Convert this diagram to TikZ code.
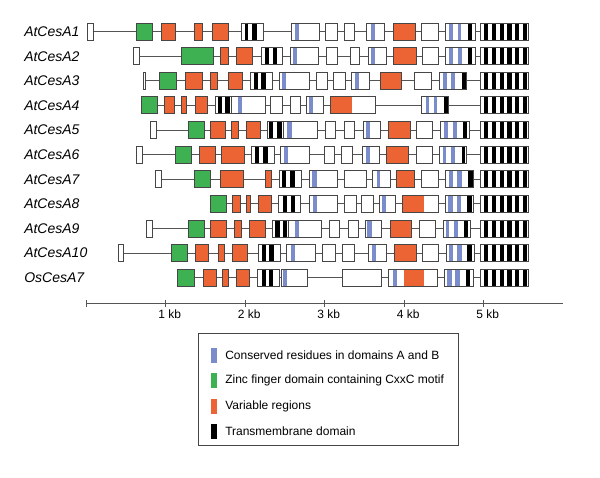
\documentclass[tikz,border=0pt]{standalone}
\usepackage{fontspec}
\setmainfont{Liberation Sans}
\definecolor{zgreen}{RGB}{62,178,82}
\definecolor{vorange}{RGB}{236,99,52}
\definecolor{cblue}{RGB}{122,140,204}
\definecolor{outl}{RGB}{70,70,70}
\definecolor{glin}{RGB}{85,85,85}
\tikzset{
  gb/.style={draw=outl,line width=0.6pt},
  gl/.style={draw=glin,line width=0.7pt},
  lab/.style={anchor=west,inner sep=0pt,font=\fontsize{10.5}{12}\selectfont\itshape},
  ticklab/.style={anchor=west,inner sep=0pt,font=\fontsize{9}{11}\selectfont},
  leglab/.style={anchor=west,inner sep=0pt,font=\fontsize{9}{11}\selectfont},
}
\newcommand\bxW[2]{\filldraw[gb,fill=white] (#1,-8.5) rectangle (#2,8.5);}
\newcommand\bxG[2]{\filldraw[gb,fill=zgreen] (#1,-8.5) rectangle (#2,8.5);}
\newcommand\bxO[2]{\filldraw[gb,fill=vorange] (#1,-8.5) rectangle (#2,8.5);}
\newcommand\bxS[3]{\fill[white] (#1,-8.5) rectangle (#2,8.5); #3 \draw[gb] (#1,-8.5) rectangle (#2,8.5);}
\newcommand\stK[2]{\fill[black] (#1,-8.5) rectangle (#2,8.5);}
\newcommand\stB[2]{\fill[cblue] (#1,-8.5) rectangle (#2,8.5);}
\newcommand\stO[2]{\fill[vorange] (#1,-8.5) rectangle (#2,8.5);}
\newcommand\tmsix{\bxS{480}{528.3}{\stK{484}{488.2}\stK{491.8}{496}\stK{499.6}{503.8}\stK{507.4}{511.6}\stK{515.2}{519.4}\stK{523}{527.2}}}
\begin{document}
\begin{tikzpicture}[x=0.75pt,y=-0.75pt]
\useasboundingbox (0,0) rectangle (600,478);
\fill[white] (0,0) rectangle (600,478);

% ---------- AtCesA1
\node[lab] (lA1) at (24,31.6) {AtCesA1};
\begin{scope}[shift={(0,31.6)}]
\draw[gl] (87.3,0) -- (528.3,0);
\bxW{87.3}{93.3}
\bxG{136.7}{152.7}
\bxO{161.3}{175.3}
\bxO{194}{202.7}
\bxO{212.7}{228}
\bxS{241.3}{263.3}{\stK{244.5}{248.3}\stK{252.3}{256.5}}
\bxS{291.7}{319.3}{\stB{295}{299}}
\bxW{325.7}{337.3}
\bxW{344}{354.7}
\bxS{366.7}{384}{\stB{370.7}{374.5}}
\bxO{393.3}{415}
\bxW{421.7}{438.3}
\bxS{445.3}{475}{\stB{449.3}{452.7}\stB{457.7}{461}\stK{467.7}{471.7}}
\tmsix
\end{scope}

% ---------- AtCesA2
\node[lab] (lA2) at (24,56.2) {AtCesA2};
\begin{scope}[shift={(0,56.2)}]
\draw[gl] (133.3,0) -- (528.3,0);
\bxW{133.3}{139.3}
\bxG{181.7}{213.3}
\bxO{220}{228.7}
\bxO{236}{252}
\bxS{261.7}{282.7}{\stK{265}{269}\stK{272.5}{277}}
\bxS{290}{318.3}{\stB{293.3}{297.3}}
\bxW{326}{337.3}
\bxW{350}{359.3}
\bxS{368.3}{386}{\stB{371}{375}}
\bxO{393.3}{416}
\bxW{422.7}{438.3}
\bxS{445.3}{475}{\stB{449.3}{452.7}\stB{457.7}{461.5}\stK{467.7}{471.7}}
\tmsix
\end{scope}

% ---------- AtCesA3
\node[lab] (lA3) at (24,80.8) {AtCesA3};
\begin{scope}[shift={(0,80.8)}]
\draw[gl] (143.3,0) -- (528.3,0);
\bxW{143.3}{145.7}
\bxG{159.3}{176}
\bxO{185.3}{202}
\bxO{210.7}{217.3}
\bxO{228}{242.7}
\bxS{250.7}{272.7}{\stK{253.5}{257.5}\stK{260.7}{265.7}}
\bxS{279.3}{309.3}{\stB{282}{286}}
\bxW{316}{327.3}
\bxW{333.3}{345}
\bxS{351.7}{369.3}{\stB{355}{359}}
\bxO{380}{401}
\bxW{414.3}{431.7}
\bxS{439.3}{466.7}{\stB{443.3}{446.7}\stB{450.7}{455}\stK{461.7}{465.7}}
\tmsix
\end{scope}

% ---------- AtCesA4
\node[lab] (lA4) at (24,105.4) {AtCesA4};
\begin{scope}[shift={(0,105.4)}]
\draw[gl] (141.7,0) -- (528.3,0);
\bxG{141.7}{157.7}
\bxO{164.7}{174.7}
\bxO{181.7}{186.7}
\bxO{195}{207.3}
\bxS{215}{231.7}{\stK{217.5}{221.7}\stK{225.3}{230}}
\bxS{231.7}{265}{\stB{238.3}{242.3}}
\bxW{270}{282.7}
\bxW{290}{300.7}
\bxS{306.7}{323.3}{\stB{309.3}{313.3}}
\bxS{330}{375}{\stO{330}{351.7}}
\bxS{421.7}{448.3}{\stB{425.7}{429}\stB{434}{437.3}\stK{444}{448.3}}
\tmsix
\end{scope}

% ---------- AtCesA5
\node[lab] (lA5) at (24,130) {AtCesA5};
\begin{scope}[shift={(0,130)}]
\draw[gl] (150,0) -- (528.3,0);
\bxW{150}{156}
\bxG{188.3}{204}
\bxO{210.7}{225.3}
\bxO{231.7}{238.3}
\bxO{246}{260}
\bxS{267.3}{283.3}{\stK{269.3}{273.3}\stK{276.7}{281.7}}
\bxS{283.3}{317.3}{\stB{287.3}{291.7}}
\bxW{325}{335}
\bxW{344.3}{354}
\bxS{363.3}{380}{\stB{366}{370}}
\bxO{388.3}{410}
\bxW{416.7}{432.7}
\bxS{440.7}{469.3}{\stB{444}{448.3}\stB{452.7}{456.7}\stK{463.3}{467.3}}
\tmsix
\end{scope}

% ---------- AtCesA6
\node[lab] (lA6) at (24,154.6) {AtCesA6};
\begin{scope}[shift={(0,154.6)}]
\draw[gl] (136.7,0) -- (528.3,0);
\bxW{136.7}{142.7}
\bxG{175.7}{191.7}
\bxO{199}{215}
\bxO{221.7}{244}
\bxS{251.7}{274}{\stK{255}{259.3}\stK{263.3}{267.7}}
\bxS{280}{309.3}{\stB{284}{287.5}}
\bxW{324.3}{334}
\bxW{341.7}{352.7}
\bxS{362.7}{379.3}{\stB{365.7}{370}}
\bxO{386.7}{408.3}
\bxW{416.7}{432.7}
\bxS{439.3}{466.7}{\stB{442.7}{446}\stB{450.7}{454.7}\stK{461.7}{465.3}}
\tmsix
\end{scope}

% ---------- AtCesA7
\node[lab] (lA7) at (24,179.2) {AtCesA7};
\begin{scope}[shift={(0,179.2)}]
\draw[gl] (155,0) -- (528.3,0);
\bxW{155}{161}
\bxG{194.3}{210}
\bxO{220.7}{243.3}
\bxO{265}{271.7}
\bxS{279.3}{301.7}{\stK{282}{286}\stK{290}{294.5}}
\bxS{309.3}{337.3}{\stB{312.3}{316.7}}
\bxW{344}{366}
\bxS{372.7}{390}{\stB{376.7}{380}}
\bxO{396}{414}
\bxW{421.7}{438.3}
\bxS{445.7}{473.3}{\stB{449.3}{453.3}\stB{457.3}{461.7}\stK{468.3}{472.7}}
\tmsix
\end{scope}

% ---------- AtCesA8
\node[lab] (lA8) at (24,203.8) {AtCesA8};
\begin{scope}[shift={(0,203.8)}]
\draw[gl] (210.7,0) -- (528.3,0);
\bxG{210.7}{226}
\bxO{232.3}{240.7}
\bxO{246.7}{250.7}
\bxO{258.3}{271.7}
\bxS{278.3}{300}{\stK{282.7}{286.7}\stK{290.5}{295}}
\bxS{309.3}{337.3}{\stB{313.3}{317.3}}
\bxW{344}{356}
\bxW{361.7}{373.3}
\bxS{379.3}{395}{\stB{381.7}{386}}
\bxS{402.7}{438.3}{\stO{402.7}{424}}
\bxS{445}{473.3}{\stB{448.3}{452.7}\stB{456.7}{461}\stK{467.3}{471.7}}
\tmsix
\end{scope}

% ---------- AtCesA9
\node[lab] (lA9) at (24,228.4) {AtCesA9};
\begin{scope}[shift={(0,228.4)}]
\draw[gl] (146,0) -- (528.3,0);
\bxW{146}{152.7}
\bxG{188.3}{204}
\bxO{210.7}{226.7}
\bxO{234}{241.7}
\bxO{249.3}{265}
\bxS{272.7}{288.3}{\stK{275}{279.5}\stK{283}{287.3}}
\bxS{288.3}{321.7}{\stB{295}{299.3}}
\bxW{329.3}{339.3}
\bxW{348.3}{358.3}
\bxS{365}{381.7}{\stB{367.3}{371.7}}
\bxO{390}{411.7}
\bxW{419.3}{435}
\bxS{443.3}{470}{\stB{445.7}{449.3}\stB{454}{458.3}\stK{464.3}{468.3}}
\tmsix
\end{scope}

% ---------- AtCesA10
\node[lab] (lA10) at (24,253) {AtCesA10};
\begin{scope}[shift={(0,253)}]
\draw[gl] (118.3,0) -- (528.3,0);
\bxW{118.3}{123.3}
\bxG{171.7}{187.3}
\bxO{195}{208.3}
\bxO{218.3}{224}
\bxO{232.3}{247.3}
\bxS{258.3}{280}{\stK{261.7}{266}\stK{269.3}{274}}
\bxS{286}{315}{\stB{291}{295}}
\bxW{322.7}{335}
\bxW{342.7}{354}
\bxS{368.3}{386}{\stB{371.7}{376}}
\bxO{394}{416}
\bxW{422.7}{438.3}
\bxS{446}{474}{\stB{449}{452.7}\stB{457.3}{461.7}\stK{467.3}{471.7}}
\tmsix
\end{scope}

% ---------- OsCesA7
\node[lab] (lOs) at (24,277.6) {OsCesA7};
\begin{scope}[shift={(0,277.6)}]
\draw[gl] (177.3,0) -- (528.3,0);
\bxG{177.3}{194}
\bxO{203.3}{216}
\bxO{222.7}{228.3}
\bxO{236}{249.3}
\bxS{257.3}{279.3}{\stK{261.7}{266}\stK{269.3}{273.3}}
\bxS{281.3}{307.3}{\stB{282.5}{286.5}}
\bxW{342.7}{381.7}
\bxS{388.3}{437.3}{\stB{393.3}{397.3}\stO{404}{424}}
\bxS{444}{473.3}{\stB{447.3}{451.7}\stB{455}{460}\stK{466}{470}}
\tmsix
\end{scope}

% ---------- scale axis
\coordinate (ax0) at (86,303.3);
\coordinate (axE) at (562.7,303.3);
\draw[gl] (ax0) -- (axE);
\draw[gl] (86,300) -- (86,306.5);
\foreach \k/\xx in {1/165.3,2/245,3/324.3,4/404,5/483.3}{
  \draw[gl] (\xx,300) -- (\xx,306.5);
  \node[ticklab] (t\k) at (\xx-7.3,314.3) {\k\ kb};
}

% ---------- legend
\draw[draw=outl,line width=0.6pt] (198,333.5) rectangle (458,445.5);
\fill[cblue] (210.7,347.5) rectangle (216.7,362.5);
\node[leglab] (g1) at (225,355) {Conserved residues in domains A and B};
\fill[zgreen] (210.7,372.5) rectangle (216.7,387.5);
\node[leglab] (g2) at (225,380) {Zinc finger domain containing CxxC motif};
\fill[vorange] (210.7,398.5) rectangle (216.7,413.5);
\node[leglab] (g3) at (225,406) {Variable regions};
\fill[black] (210.7,423.5) rectangle (216.7,438.5);
\node[leglab] (g4) at (225,431) {Transmembrane domain};
\end{tikzpicture}
\end{document}
